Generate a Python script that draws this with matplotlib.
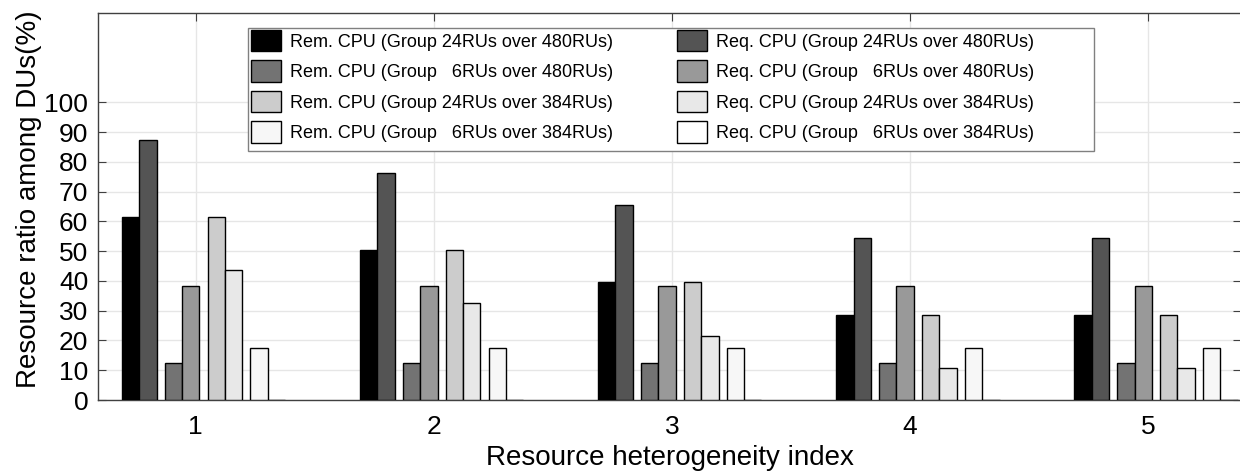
import numpy as np
import matplotlib
matplotlib.use("Agg")
import matplotlib.pyplot as plt
from matplotlib.patches import Rectangle

plt.rcParams['font.family'] = ['Liberation Sans', 'DejaVu Sans']

groups = [1, 2, 3, 4, 5]

rem_24_480 = [61.4, 50.4, 39.5, 28.5, 28.5]
req_24_480 = [87.3, 76.3, 65.4, 54.4, 54.4]
rem_6_480 = [12.4, 12.4, 12.4, 12.4, 12.4]
req_6_480 = [38.2, 38.2, 38.2, 38.2, 38.2]
rem_24_384 = [61.4, 50.4, 39.5, 28.5, 28.5]
req_24_384 = [43.6, 32.6, 21.6, 10.9, 10.9]
rem_6_384 = [17.6, 17.6, 17.6, 17.6, 17.6]
req_6_384 = [0, 0, 0, 0, 0]

rem_labels = ["Rem. CPU (Group 24RUs over 480RUs)",
              "Rem. CPU (Group   6RUs over 480RUs)",
              "Rem. CPU (Group 24RUs over 384RUs)",
              "Rem. CPU (Group   6RUs over 384RUs)"]
req_labels = ["Req. CPU (Group 24RUs over 480RUs)",
              "Req. CPU (Group   6RUs over 480RUs)",
              "Req. CPU (Group 24RUs over 384RUs)",
              "Req. CPU (Group   6RUs over 384RUs)"]

rem_series = [rem_24_480, rem_6_480, rem_24_384, rem_6_384]
req_series = [req_24_480, req_6_480, req_24_384, req_6_384]
rem_colors = ['#000000', '#737373', '#cccccc', '#f7f7f7']
req_colors = ['#545454', '#999999', '#e8e8e8', '#ffffff']

W, H = 1240, 476
fig = plt.figure(figsize=(W / 100, H / 100), dpi=100)
ax = fig.add_axes([98 / W, 76 / H, 1143 / W, 387 / H])

x = np.array(groups, dtype=float)
w = 0.073
pitch = 0.18
start = -0.31

rem_handles = []
req_handles = []
for k in range(4):
    h1 = ax.bar(x + start + pitch * k, rem_series[k], width=w, align='edge',
                color=rem_colors[k], edgecolor='black', linewidth=1.0,
                label=rem_labels[k], zorder=3)
    h2 = ax.bar(x + start + pitch * k + w, req_series[k], width=w, align='edge',
                color=req_colors[k], edgecolor='black', linewidth=1.0,
                label=req_labels[k], zorder=3)
    rem_handles.append(h1)
    req_handles.append(h2)

ax.set_xlim(0.59, 5.39)
ax.set_ylim(0, 130)
ax.set_yticks(np.arange(0, 101, 10))
ax.set_xticks(groups)
ax.grid(True, color='#e6e6e6', linewidth=1.0, zorder=0)
ax.set_axisbelow(True)
ax.tick_params(direction='in', top=True, right=True, labelsize=19, length=6,
               color='#404040')
ax.tick_params(axis='y', pad=7)
ax.tick_params(axis='x', pad=11)
for s in ax.spines.values():
    s.set_color('#404040')
    s.set_linewidth(1.0)

ax.set_xlabel("Resource heterogeneity index", fontsize=20, labelpad=4)
ax.set_ylabel("Resource ratio among DUs(%)", fontsize=20)
ax.yaxis.set_label_coords(-0.049, 0.519)

# legend frame (MATLAB style, extra room on the right)
x0 = (248 - 98) / 1142
x1 = (1093 - 98) / 1142
y0 = (400 - 151) / 387
y1 = (400 - 28) / 387
ax.add_patch(Rectangle((x0, y0), x1 - x0, y1 - y0, transform=ax.transAxes,
                       facecolor='white', edgecolor='#808080', linewidth=1.0,
                       zorder=4))

leg = ax.legend(rem_handles + req_handles, rem_labels + req_labels, ncol=2,
                loc='upper left', bbox_to_anchor=((251 - 98) / 1142, (400 - 30) / 387),
                fontsize=13, frameon=False, borderpad=0, borderaxespad=0,
                handlelength=1.67, handleheight=1.45, handletextpad=0.5,
                labelspacing=0.5, columnspacing=3.5)
leg.set_zorder(5)

fig.savefig("out.png", dpi=100)
